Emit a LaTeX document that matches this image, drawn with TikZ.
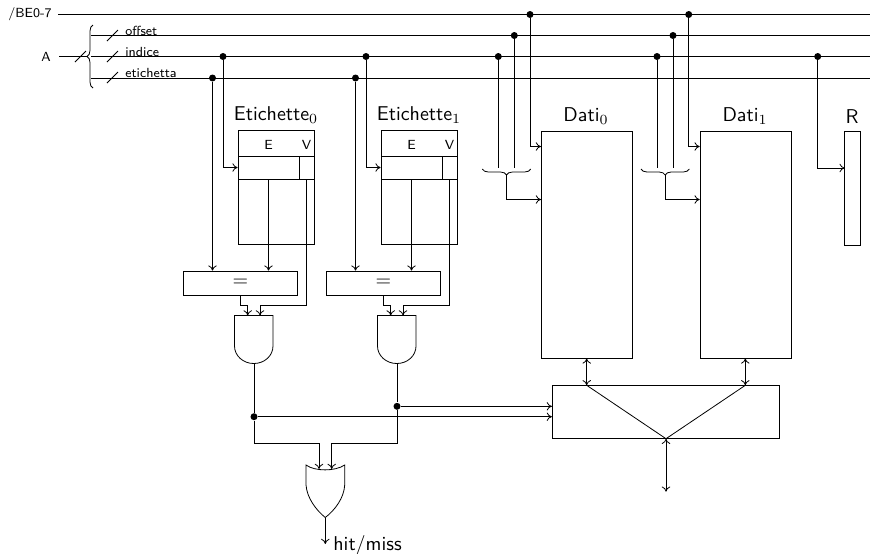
\documentclass[tikz,border=0pt]{standalone}
\usepackage{amsmath}
\usepackage{tikz}
\usetikzlibrary{calc, positioning, arrows.meta, decorations.pathreplacing}

\tikzset{
    box/.style={draw, inner sep=0pt},
    dot/.style={circle, fill, inner sep=0pt, minimum size=3.5pt},
    small/.style={font=\sffamily\fontsize{6.6}{8}\selectfont, inner sep=0pt},
    big/.style={font=\sffamily, inner sep=0pt},
    busname/.style={small, anchor=base west},
    brace/.style={decorate, decoration={brace, amplitude=3pt}}
}

\begin{document}
\begin{tikzpicture}[x=0.5pt, y=-0.5pt, >={Computer Modern Rightarrow[length=2.6pt, width=4.2pt]}]
    \useasboundingbox (0,0) rectangle (870,553);

    % bus
    \coordinate (BEs) at (58,14.5);    \coordinate (BEe) at (870,14.5);
    \coordinate (Os) at (91,35.5);     \coordinate (Oe) at (870,35.5);
    \coordinate (Is) at (91,56.5);     \coordinate (Ie) at (870,56.5);
    \coordinate (Ts) at (91,78);       \coordinate (Te) at (870,78);
    \coordinate (As) at (59,56.5);     \coordinate (Ae) at (87,56.5);
    \draw (BEs) -- (BEe);
    \draw (Os) -- (Oe);
    \draw (Is) -- (Ie);
    \draw (Ts) -- (Te);
    \draw (As) -- (Ae);
    \draw[brace] (93,88) -- (93,25);
    \draw (75,62) -- (86,51);
    \draw (107,41) -- (118,30);
    \draw (107,62) -- (118,51);
    \draw (107,83) -- (118,72);
    \node[small] (BElabel) at (30,14) {/BE0-7};
    \node[small] (Alabel) at (46,57) {A};
    \node[busname] (Olabel) at (125,35) {offset};
    \node[busname] (Ilabel) at (125,56) {indice};
    \node[busname] (Tlabel) at (125,77.5) {etichetta};

    % etichette
    \node[box, minimum width=37.75pt, minimum height=56.75pt] (E0) at (276.25,187.5) {};
    \node[box, minimum width=37.75pt, minimum height=56.75pt] (E1) at (419.25,187.5) {};
    \node[box, minimum width=30.5pt, minimum height=11.5pt] (E0row) at (268.5,167.5) {};
    \node[box, minimum width=7.5pt, minimum height=11.5pt] (V0row) at (306.5,167.5) {};
    \node[box, minimum width=30.5pt, minimum height=11.5pt] (E1row) at (411.5,167.5) {};
    \node[box, minimum width=7.5pt, minimum height=11.5pt] (V1row) at (449.5,167.5) {};
    \node[small] (E0txt) at (268.5,145) {E};
    \node[small] (V0txt) at (306.5,145) {V};
    \node[small] (E1txt) at (411.5,145) {E};
    \node[small] (V1txt) at (449.5,145) {V};
    \node[big] (E0name) at (276,115) {Etichette$_0$};
    \node[big] (E1name) at (419,115) {Etichette$_1$};

    % comparatori
    \node[box, minimum width=56.75pt, minimum height=12pt] (C0) at (240.5,283) {$=$};
    \node[box, minimum width=56.75pt, minimum height=12pt] (C1) at (383.5,283) {$=$};

    % dati
    \node[box, minimum width=45.5pt, minimum height=113.5pt] (D0) at (586.5,244.5) {};
    \node[box, minimum width=45.5pt, minimum height=113.5pt] (D1) at (745.5,244.5) {};
    \node[box, minimum width=7.65pt, minimum height=56.85pt] (R) at (852.35,188.2) {};
    \node[big] (D0name) at (586,116) {Dati$_0$};
    \node[big] (D1name) at (745,116) {Dati$_1$};
    \node[big] (Rname) at (852,116.5) {R};
    \node[box, minimum width=113.5pt, minimum height=26.7pt] (M) at (665.8,412) {};

    % derivazioni
    \node[dot] (i0) at (223,56.5) {};
    \node[dot] (t0) at (212.5,78) {};
    \node[dot] (i1) at (366,56.5) {};
    \node[dot] (t1) at (355.5,78) {};
    \node[dot] (be0) at (530,14.5) {};
    \node[dot] (be1) at (688.7,14.5) {};
    \node[dot] (o0) at (514.3,35.5) {};
    \node[dot] (o1) at (673,35.5) {};
    \node[dot] (a0) at (498.3,56.5) {};
    \node[dot] (a1) at (657,56.5) {};
    \node[dot] (aR) at (817.7,56.5) {};

    \draw[->] (i0) |- (E0row.west);
    \draw[->] (i1) |- (E1row.west);
    \draw[->] (t0) -- (t0 |- C0.north);
    \draw[->] (t1) -- (t1 |- C1.north);
    \draw[->] (E0row.south) -- (E0row.south |- C0.north);
    \draw[->] (E1row.south) -- (E1row.south |- C1.north);

    % porte and
    \coordinate (G0a) at (247.7,315.5);
    \coordinate (G0b) at (260,315.5);
    \coordinate (G0o) at (254,363.5);
    \coordinate (G1a) at (390.7,315.5);
    \coordinate (G1b) at (403,315.5);
    \coordinate (G1o) at (397,363.5);
    \draw (234.5,315.5) -- (273,315.5) -- (273,346)
        .. controls (273,355.7) and (264.6,363.5) .. (253.75,363.5)
        .. controls (243.1,363.5) and (234.5,355.7) .. (234.5,346) -- cycle;
    \draw (377.5,315.5) -- (416,315.5) -- (416,346)
        .. controls (416,355.7) and (407.6,363.5) .. (396.75,363.5)
        .. controls (386.1,363.5) and (377.5,355.7) .. (377.5,346) -- cycle;
    \draw[->] (C0.south) |- ($(G0a)+(0,-10.5)$) -- (G0a);
    \draw[->] (V0row.south) |- ($(G0b)+(0,-10.5)$) -- (G0b);
    \draw[->] (C1.south) |- ($(G1a)+(0,-10.5)$) -- (G1a);
    \draw[->] (V1row.south) |- ($(G1b)+(0,-10.5)$) -- (G1b);

    % porta or
    \coordinate (Oa) at (319,469);
    \coordinate (Ob) at (331.7,469);
    \coordinate (Oo) at (325.3,517.5);
    \coordinate (Hit) at (325.3,544);
    \draw (306,465) -- (306,485) .. controls (307,498) and (316,510) .. (Oo)
        .. controls (335,510) and (344,498) .. (344.7,485) -- (344.7,465)
        .. controls (335,471.5) and (315,471.5) .. (306,465) -- cycle;
    \node[dot] (h0) at (254,416.7) {};
    \node[dot] (h1) at (397,406.3) {};
    \draw (G0o) -- (h0);
    \draw (G1o) -- (h1);
    \draw[->] (h0) |- ($(Oa)+(0,-26)$) -- (Oa);
    \draw[->] (h1) |- ($(Ob)+(0,-26)$) -- (Ob);
    \draw[->] (Oo) -- (Hit);
    \node[big, anchor=west] (HitTxt) at (333,545) {hit/miss};
    \draw[->] (h0) -- (h0 -| M.west);
    \draw[->] (h1) -- (h1 -| M.west);

    % indirizzi dati
    \draw[brace] (530.7,169) -- (482.3,169);
    \draw[brace] (689.3,169) -- (641,169);
    \coordinate (b0) at (506,175);
    \coordinate (b1) at (665,175);
    \coordinate (D0in) at (541,199.5);
    \coordinate (D1in) at (699.7,199.5);
    \coordinate (D0be) at (541,146.5);
    \coordinate (D1be) at (699.7,146.5);
    \coordinate (Rin) at (844.7,168);
    \draw (a0) -- (a0 |- 0,168);
    \draw (o0) -- (o0 |- 0,168);
    \draw (a1) -- (a1 |- 0,168);
    \draw (o1) -- (o1 |- 0,168);
    \draw[->] (be0) |- (D0be);
    \draw[->] (be1) |- (D1be);
    \draw[->] (b0) |- (D0in);
    \draw[->] (b1) |- (D1in);
    \draw[->] (aR) |- (Rin);

    % multiplexer
    \coordinate (M0) at (586.7,385.3);
    \coordinate (M1) at (745.3,385.3);
    \coordinate (Mo) at (666,438.7);
    \coordinate (Out) at (666,491.7);
    \draw[<->] (M0 |- D0.south) -- (M0);
    \draw[<->] (M1 |- D1.south) -- (M1);
    \draw (M0) -- (Mo) -- (M1);
    \draw[<->] (Mo) -- (Out);
\end{tikzpicture}
\end{document}
